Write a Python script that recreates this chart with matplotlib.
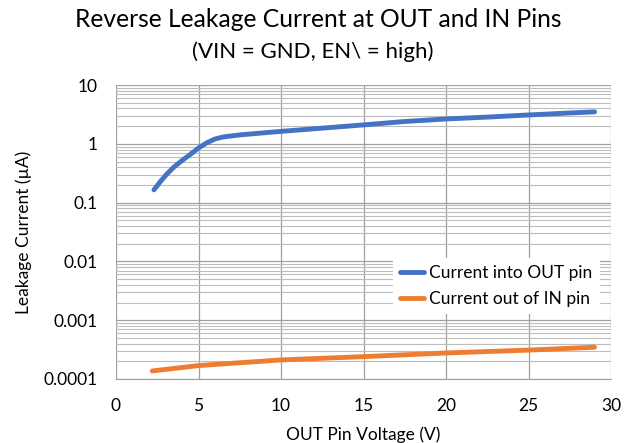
import matplotlib
matplotlib.use("Agg")
import matplotlib.pyplot as plt
from matplotlib.ticker import LogLocator, FixedLocator, FixedFormatter

plt.rcParams['font.family'] = ['Lato', 'DejaVu Sans']

v_out = [2.3, 2.7, 3.1, 3.5, 4.0, 4.5, 5.0, 5.5, 6.0, 6.5, 7.5, 10.0, 12.5, 15.0, 17.5, 20.0, 22.5, 25.0, 27.5, 29.0]
i_out = [0.165, 0.23, 0.31, 0.40, 0.52, 0.66, 0.85, 1.04, 1.21, 1.31, 1.42, 1.63, 1.85, 2.1, 2.4, 2.65, 2.85, 3.1, 3.35, 3.5]
v_in = [2.2, 5.0, 10.0, 15.0, 20.0, 25.0, 29.0]
i_in = [0.000137, 0.000169, 0.000211, 0.00024, 0.000277, 0.00031, 0.000347]

yticks = [0.0001, 0.001, 0.01, 0.1, 1, 10]
ytick_labels = ["0.0001", "0.001", "0.01", "0.1", "1", "10"]
xticks = [0, 5, 10, 15, 20, 25, 30]

fig = plt.figure(figsize=(6.28, 4.43), dpi=100)
ax = fig.add_axes([0.1847, 0.1445, 0.7883, 0.6635])

ax.plot(v_out, i_out, color='#4472C4', lw=3.5, solid_capstyle='round', solid_joinstyle='round',
        label='Current into OUT pin', zorder=3)
ax.plot(v_in, i_in, color='#ED7D31', lw=3.5, solid_capstyle='round', solid_joinstyle='round',
        label='Current out of IN pin', zorder=3)

ax.set_yscale('log')
ax.set_ylim(0.0001, 10)
ax.set_xlim(0, 30)
ax.yaxis.set_major_locator(FixedLocator(yticks))
ax.yaxis.set_major_formatter(FixedFormatter(ytick_labels))
ax.yaxis.set_minor_locator(LogLocator(base=10, subs=range(2, 10)))
ax.yaxis.set_minor_formatter(FixedFormatter([]))
ax.set_xticks(xticks)

ax.grid(True, which='major', color='#a0a0a0', lw=0.9, zorder=0)
ax.grid(True, which='minor', axis='y', color='#bdbdbd', lw=0.8, zorder=0)
ax.tick_params(which='both', length=0, labelsize=12.5, colors='black')
ax.tick_params(axis='x', pad=14)
ax.tick_params(axis='y', pad=13.5)
for s in ['top', 'right', 'left']:
    ax.spines[s].set_visible(False)
ax.spines['bottom'].set_color('#a0a0a0')

ax.set_xlabel('OUT Pin Voltage (V)', fontsize=12.5, labelpad=8.5)
ax.set_ylabel('Leakage Current (µA)', fontsize=12.5, labelpad=8)

fig.text(0.506, 0.955, 'Reverse Leakage Current at OUT and IN Pins', ha='center', va='center', fontsize=17.7)
fig.text(0.498, 0.883, '(VIN = GND, EN\\ = high)', ha='center', va='center', fontsize=16)

leg = ax.legend(loc='center', bbox_to_anchor=(0.768, 0.316), frameon=True, fontsize=12.5,
                handlelength=1.4, handletextpad=0.3, borderpad=0.3, labelspacing=0.6)
leg.get_frame().set_facecolor('white')
leg.get_frame().set_edgecolor('none')
leg.get_frame().set_alpha(1)
leg.get_frame().set_boxstyle('square', pad=0.1)

fig.savefig('out.png', dpi=100)
